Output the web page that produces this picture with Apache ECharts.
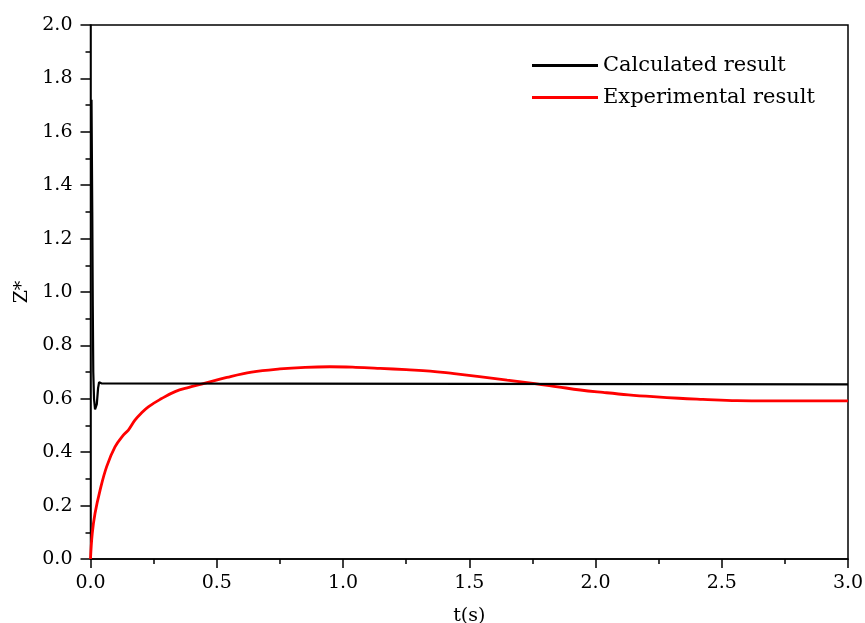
<!DOCTYPE html>
<html>
<head>
<meta charset="utf-8">
<script src="https://cdn.jsdelivr.net/npm/echarts@6/dist/echarts.min.js"></script>
<style>html,body{margin:0;padding:0;background:#fff}#c{width:865px;height:623px}</style>
</head>
<body>
<div id="c"></div>
<script>
const seriesNames = ['Calculated result', 'Experimental result'];
const calcT = [0.004,0.007,0.009,0.011,0.014,0.018,0.021,0.025,0.030,0.034,0.038,0.043,0.050,3.0];
const calcZ = [1.72,1.30,0.95,0.70,0.60,0.56,0.555,0.58,0.64,0.662,0.667,0.658,0.654,0.654];
const expT = [0,0.007,0.018,0.038,0.064,0.097,0.130,0.150,0.176,0.200,0.229,0.280,0.335,0.390,0.440,0.540,0.638,0.750,0.850,0.948,1.050,1.147,1.250,1.345,1.440,1.540,1.650,1.760,1.850,1.940,2.030,2.130,2.228,2.330,2.425,2.560,2.690,2.850,3.0];
const expZ = [0,0.096,0.171,0.258,0.346,0.420,0.464,0.483,0.520,0.545,0.570,0.600,0.627,0.643,0.655,0.680,0.700,0.712,0.718,0.720,0.718,0.714,0.709,0.704,0.694,0.683,0.670,0.657,0.645,0.633,0.624,0.615,0.608,0.602,0.598,0.593,0.592,0.592,0.592];
const xTicks = ['0.0','0.5','1.0','1.5','2.0','2.5','3.0'];
const yTicks = ['0.0','0.2','0.4','0.6','0.8','1.0','1.2','1.4','1.6','1.8','2.0'];

const font = 'DejaVu Serif';
const chart = echarts.init(document.getElementById('c'), null, {renderer: 'canvas'});
chart.setOption({
  animation: false,
  backgroundColor: '#fff',
  grid: {left: 90.5, right: 17, top: 25, bottom: 64, show: true, borderColor: '#000', borderWidth: 1.5,
    containLabel: false, outerBoundsMode: 'none'},
  legend: {
    orient: 'vertical', left: 532, top: 55, padding: 0, itemWidth: 66, itemHeight: 3, itemGap: 11, icon: 'rect',
    textStyle: {fontFamily: font, fontSize: 21, color: '#000', lineHeight: 21},
    data: seriesNames
  },
  xAxis: {
    type: 'value', min: 0, max: 3, interval: 0.5,
    name: 't(s)', nameLocation: 'middle', nameGap: 48,
    nameTextStyle: {fontFamily: font, fontSize: 19, color: '#000'},
    axisLine: {lineStyle: {color: '#000', width: 1.5}},
    axisTick: {inside: false, length: 9, lineStyle: {color: '#000', width: 1.5}},
    minorTick: {show: true, splitNumber: 2, length: 5, lineStyle: {color: '#000', width: 1.5}},
    splitLine: {show: false},
    axisLabel: {fontFamily: font, fontSize: 19, color: '#000', margin: 15,
      formatter: v => xTicks[Math.round(v / 0.5)]}
  },
  yAxis: {
    type: 'value', min: 0, max: 2, interval: 0.2,
    name: 'Z*', nameLocation: 'middle', nameGap: 58, nameRotate: 90,
    nameTextStyle: {fontFamily: font, fontSize: 19, color: '#000'},
    axisLine: {show: true, lineStyle: {color: '#000', width: 1.5}},
    axisTick: {show: true, inside: false, length: 10, lineStyle: {color: '#000', width: 1.5}},
    minorTick: {show: true, splitNumber: 2, length: 5, lineStyle: {color: '#000', width: 1.5}},
    splitLine: {show: false},
    axisLabel: {fontFamily: font, fontSize: 19, color: '#000', margin: 18,
      formatter: v => yTicks[Math.round(v / 0.2)]}
  },
  series: [
    {name: seriesNames[0], type: 'line', showSymbol: false, symbol: 'none', color: '#000',
      lineStyle: {color: '#000', width: 2.2}, data: calcT.map((t, i) => [t, calcZ[i]]), z: 3},
    {name: seriesNames[1], type: 'line', showSymbol: false, symbol: 'none', color: '#ff0000', smooth: 0.4,
      lineStyle: {color: '#ff0000', width: 2.8}, data: expT.map((t, i) => [t, expZ[i]]), z: 2}
  ]
});
</script>
</body>
</html>
